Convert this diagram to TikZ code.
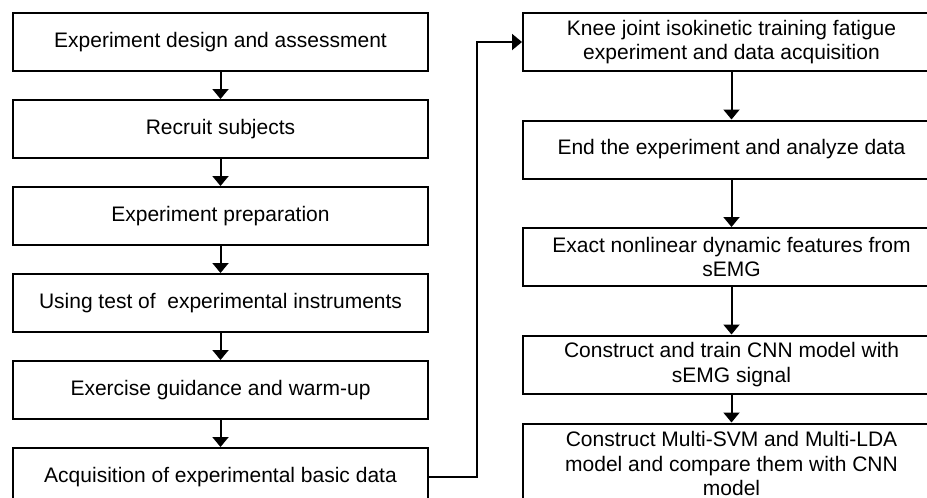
\documentclass[tikz,border=0pt]{standalone}
\usepackage{fontspec}
\setmainfont{Liberation Sans}
\usepackage{tikz}
\usetikzlibrary{arrows.meta, positioning}

\begin{document}
\begin{tikzpicture}[
    % Define standard styles for the diagram components
    x=1pt, y=1pt,
    stepbox/.style={
        rectangle,
        draw=black,
        fill=white,
        line width=2pt,
        minimum width=415pt,
        minimum height=58pt,
        inner sep=1pt,
        align=center,
        font=\fontsize{21}{24.5}\selectfont
    },
    widebox/.style={
        stepbox,
        minimum width=417pt
    },
    arrow/.style={
        -{Triangle[length=10pt, width=16pt]},
        line width=2pt,
        draw=black
    }
]

% fix the page to the reference size
\useasboundingbox (0,0) rectangle (927,-498);

% --- Nodes ---

% Left column (preparation)
\node[stepbox] (design) at (220.5,-42) {Experiment design and assessment};
\node[stepbox, below=27pt of design] (recruit) {Recruit subjects};
\node[stepbox, below=27pt of recruit] (prep) {Experiment preparation};
\node[stepbox, below=27pt of prep] (instr) {Using test of~ experimental instruments};
\node[stepbox, below=27pt of instr] (warmup) {Exercise guidance and warm-up};
\node[stepbox, below=27pt of warmup] (basic) {Acquisition of experimental basic data};

% Right column (experiment and analysis)
\node[widebox] (knee) at (731.5,-42) {Knee joint isokinetic training fatigue\\experiment and data acquisition};
\node[widebox, below=47.5pt of knee] (analyze) {End the experiment and analyze data};
\node[widebox, below=47.5pt of analyze] (feat) {Exact nonlinear dynamic features from\\sEMG};
\node[widebox, below=47.5pt of feat] (cnn) {Construct and train CNN model with\\sEMG signal};
\node[widebox, minimum height=80pt, below=28pt of cnn] (compare) {Construct Multi-SVM and Multi-LDA\\model and compare them with CNN\\model};

% --- Connections ---
\draw[arrow] (design) -- (recruit);
\draw[arrow] (recruit) -- (prep);
\draw[arrow] (prep) -- (instr);
\draw[arrow] (instr) -- (warmup);
\draw[arrow] (warmup) -- (basic);

% jump over to the right column
\draw[arrow] (basic.east) -- ++(48,0) |- (knee.west);

\draw[arrow] (knee) -- (analyze);
\draw[arrow] (analyze) -- (feat);
\draw[arrow] (feat) -- (cnn);
\draw[arrow] (cnn) -- (compare);

\end{tikzpicture}
\end{document}
